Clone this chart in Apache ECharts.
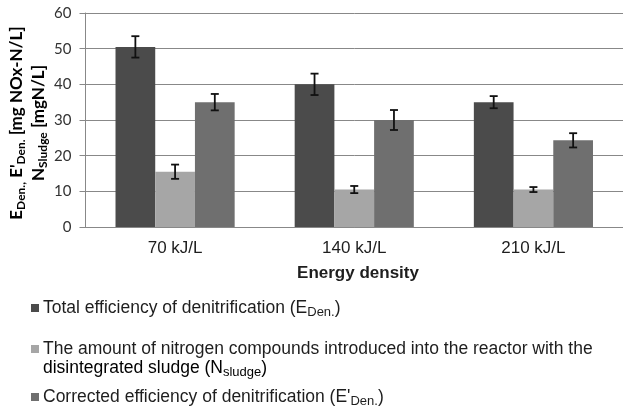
<!DOCTYPE html>
<html>
<head>
<meta charset="utf-8">
<script src="https://cdn.jsdelivr.net/npm/echarts@6/dist/echarts.min.js"></script>
<style>html,body{margin:0;padding:0;background:#fff}#c{width:623px;height:410px}</style>
</head>
<body>
<div id="c"></div>
<script>
const categories = ['70 kJ/L', '140 kJ/L', '210 kJ/L'];
const eDen = [50.5, 40, 35];
const eDenErr = [3, 3, 1.7];
const nSludge = [15.5, 10.5, 10.5];
const nSludgeErr = [2, 1, 0.7];
const eDenCorr = [35, 30, 24.3];
const eDenCorrErr = [2.3, 2.8, 2];
const yTicks = [0, 10, 20, 30, 40, 50, 60];

const seriesNames = ['Total efficiency of denitrification', 'The amount of nitrogen compounds', 'Corrected efficiency of denitrification'];
const colors = ['#4b4b4b', '#a6a6a6', '#6f6f6f'];
const catGap = 0.335;
const font = 'Liberation Sans, Arial, sans-serif';
const fontY = 'Lato, sans-serif';

const errData = [];
[[eDen, eDenErr], [nSludge, nSludgeErr], [eDenCorr, eDenCorrErr]].forEach(function (p, s) {
  p[0].forEach(function (v, i) { errData.push([i, v, p[1][i], s]); });
});

const chart = echarts.init(document.getElementById('c'));
const legendRich = {
  n: { fontSize: 17.5, fontFamily: font, color: '#1e1e1e' },
  s: { fontSize: 13, fontFamily: font, color: '#1e1e1e', padding: [8, 0, 0, 0] }
};
function mkLegend(name, top) {
  return {
    data: [name], top: top, left: 31, orient: 'vertical', selectedMode: false,
    icon: 'rect', itemWidth: 8, itemHeight: 8, itemGap: 0, padding: 0,
    formatter: function (n) {
      if (n === seriesNames[0]) return '{n|Total efficiency of denitrification (E}{s|Den.}{n|)}';
      if (n === seriesNames[1]) return '{n|The amount of nitrogen compounds introduced into the reactor with the}';
      return '{n|Corrected efficiency of denitrification (E\'}{s|Den.}{n|)}';
    },
    textStyle: { rich: legendRich, padding: [0, 0, 0, -1] }
  };
}
chart.setOption({
  animation: false,
  backgroundColor: '#fff',
  grid: { left: 85.5, top: 13, height: 214, width: 546 },
  xAxis: {
    type: 'category', data: categories, boundaryGap: true,
    axisLine: { lineStyle: { color: '#888', width: 1 } },
    axisTick: { show: false },
    axisLabel: { fontSize: 17, fontFamily: font, color: '#1e1e1e', margin: 13 }
  },
  yAxis: {
    type: 'value', min: yTicks[0], max: yTicks[yTicks.length - 1], interval: 10,
    axisLine: { show: true, lineStyle: { color: '#888', width: 1 } },
    axisTick: { show: true, length: 6, lineStyle: { color: '#888' } },
    splitLine: { lineStyle: { color: '#888', width: 1 } },
    axisLabel: { fontSize: 15, fontFamily: fontY, color: '#333', margin: 14 }
  },
  legend: [mkLegend(seriesNames[0], 299), mkLegend(seriesNames[1], 340), mkLegend(seriesNames[2], 388)],
  graphic: [
    { type: 'text', x: 358, y: 273, style: { text: 'Energy density', font: 'bold 17px ' + font, fill: '#1e1e1e', align: 'center', verticalAlign: 'middle' } },
    { type: 'text', x: 43, y: 368, style: { text: '{n|disintegrated sludge (N}{s|sludge}{n|)}', verticalAlign: 'middle', rich: legendRich } },
    { type: 'text', x: 28, y: 123, rotation: Math.PI / 2,
      style: {
        text: '{b|E}{bs|Den.,}{b| E\'}{bs|Den.}{b| [mg NOx-N/L]}\n{b|N}{bs|Sludge}{b| [mgN/L]}',
        align: 'center', verticalAlign: 'middle',
        rich: {
          b: { fontSize: 17, fontWeight: 'bold', fontFamily: fontY, color: '#111', lineHeight: 22 },
          bs: { fontSize: 12, fontWeight: 'bold', fontFamily: fontY, color: '#111', padding: [8, 0, 0, 0], lineHeight: 22 }
        }
      } }
  ],
  series: [
    { name: seriesNames[0], type: 'bar', data: eDen, itemStyle: { color: colors[0] }, barGap: 0, barCategoryGap: (catGap * 100) + '%' },
    { name: seriesNames[1], type: 'bar', data: nSludge, itemStyle: { color: colors[1] }, barGap: 0, barCategoryGap: (catGap * 100) + '%' },
    { name: seriesNames[2], type: 'bar', data: eDenCorr, itemStyle: { color: colors[2] }, barGap: 0, barCategoryGap: (catGap * 100) + '%' },
    {
      type: 'custom', data: errData, z: 10,
      renderItem: function (params, api) {
        const ci = api.value(0), v = api.value(1), e = api.value(2), s = api.value(3);
        const band = api.size([1, 0])[0];
        const bw = band * (1 - catGap) / 3;
        const cx = api.coord([ci, v])[0] + (s - 1) * bw;
        const t = api.coord([ci, v + e])[1], b = api.coord([ci, v - e])[1];
        const hw = 4;
        const st = { stroke: '#111', lineWidth: 1.8 };
        return { type: 'group', children: [
          { type: 'line', shape: { x1: cx, y1: t, x2: cx, y2: b }, style: st },
          { type: 'line', shape: { x1: cx - hw, y1: t, x2: cx + hw, y2: t }, style: st },
          { type: 'line', shape: { x1: cx - hw, y1: b, x2: cx + hw, y2: b }, style: st }
        ] };
      }
    }
  ]
});
</script>
</body>
</html>
